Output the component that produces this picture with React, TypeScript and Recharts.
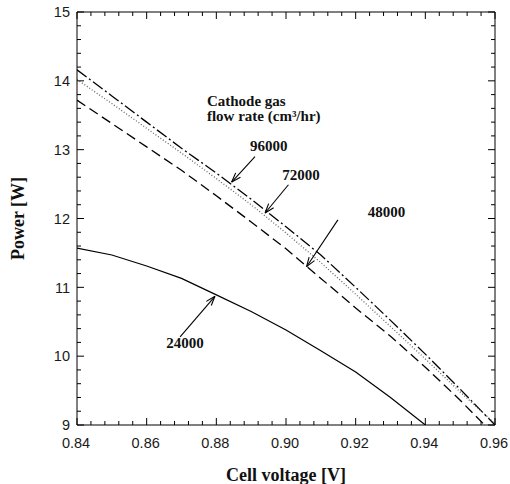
import React from 'react';
import { LineChart, Line, XAxis, YAxis, ReferenceLine, ReferenceDot } from 'recharts';

// cell voltage [V] for the three upper curves
const voltage = [0.84, 0.85, 0.86, 0.87, 0.88, 0.89, 0.9, 0.91, 0.92, 0.93, 0.94, 0.95, 0.96];
const voltage48000 = [0.84, 0.85, 0.86, 0.87, 0.88, 0.89, 0.9, 0.91, 0.92, 0.93, 0.94, 0.95, 0.957];
const voltage24000 = [0.84, 0.85, 0.86, 0.87, 0.88, 0.89, 0.9, 0.91, 0.92, 0.93, 0.94];

// power [W] for each cathode gas flow rate (cm3/hr)
const power96000 = [14.16, 13.78, 13.4, 13.02, 12.66, 12.28, 11.88, 11.47, 11.0, 10.52, 10.03, 9.52, 9.0];
const power72000 = [14.02, 13.67, 13.31, 12.95, 12.58, 12.2, 11.79, 11.36, 10.9, 10.43, 9.96, 9.48, 9.02];
const power48000 = [13.72, 13.38, 13.04, 12.7, 12.33, 11.95, 11.56, 11.13, 10.7, 10.29, 9.84, 9.36, 9.0];
const power24000 = [11.57, 11.47, 11.31, 11.13, 10.89, 10.65, 10.38, 10.08, 9.77, 9.4, 9.0];

const xTickLabels = [0.84, 0.86, 0.88, 0.9, 0.92, 0.94, 0.96];
const yTickLabels = [9, 10, 11, 12, 13, 14, 15];

// annotation text anchors and arrows, in data units
const flowLabels = [
  { name: '96000', v: 0.8897, p: 12.98, from: { x: 0.8911, y: 12.9 }, to: { x: 0.8844, y: 12.53 } },
  { name: '72000', v: 0.8989, p: 12.56, from: { x: 0.9007, y: 12.49 }, to: { x: 0.894, y: 12.08 } },
  { name: '48000', v: 0.9235, p: 12.02, from: { x: 0.9149, y: 11.98 }, to: { x: 0.9059, y: 11.3 } },
  { name: '24000', v: 0.8656, p: 10.12, from: { x: 0.8696, y: 10.28 }, to: { x: 0.8796, y: 10.87 } },
];
const titlePos = { v: 0.8773, p: 13.634 };

const toPoints = (xs: number[], ys: number[]) => xs.map((v, i) => ({ v, p: ys[i] }));

const xTicks = Array.from({ length: 31 }, (_, i) => +(0.84 + i * 0.004).toFixed(3));
const yTicks = Array.from({ length: 31 }, (_, i) => +(9 + i * 0.2).toFixed(1));

const isMajorX = (v: number) => xTickLabels.some((t) => Math.abs(t - v) < 1e-6);
const isMajorY = (v: number) => yTickLabels.some((t) => Math.abs(t - v) < 1e-6);

const serif = '"Liberation Serif", "Times New Roman", serif';
const sans = '"Liberation Sans", Arial, sans-serif';

const BottomTick = ({ x, y, payload }: any) => {
  const major = isMajorX(payload.value);
  return (
    <g>
      <line x1={x} y1={y} x2={x} y2={y - (major ? 7 : 4)} stroke="#000" />
      {major && (
        <text x={x - 1} y={y + 23} textAnchor="middle" fontFamily={sans} fontSize={14.5} fill="#1a1a1a">
          {payload.value.toFixed(2)}
        </text>
      )}
    </g>
  );
};

const TopTick = ({ x, y, payload }: any) => {
  const major = isMajorX(payload.value);
  return <line x1={x} y1={y} x2={x} y2={y + (major ? 7 : 4)} stroke="#000" />;
};

const LeftTick = ({ x, y, payload }: any) => {
  const major = isMajorY(payload.value);
  return (
    <g>
      <line x1={x} y1={y} x2={x + (major ? 7 : 4)} y2={y} stroke="#000" />
      {major && (
        <text x={x - 7} y={y} dy="0.36em" textAnchor="end" fontFamily={sans} fontSize={14.5} fill="#1a1a1a">
          {payload.value}
        </text>
      )}
    </g>
  );
};

const RightTick = ({ x, y, payload }: any) => {
  const major = isMajorY(payload.value);
  return <line x1={x} y1={y} x2={x - (major ? 7 : 4)} y2={y} stroke="#000" />;
};

const Arrow = ({ x1, y1, x2, y2 }: any) => {
  const ang = Math.atan2(y2 - y1, x2 - x1);
  const len = 10;
  const spread = 0.33;
  const a = ang + Math.PI - spread;
  const b = ang + Math.PI + spread;
  return (
    <g stroke="#000" strokeWidth={1.1} fill="none">
      <line x1={x1} y1={y1} x2={x2} y2={y2} />
      <line x1={x2} y1={y2} x2={x2 + len * Math.cos(a)} y2={y2 + len * Math.sin(a)} />
      <line x1={x2} y1={y2} x2={x2 + len * Math.cos(b)} y2={y2 + len * Math.sin(b)} />
    </g>
  );
};

const textStyle = { fontFamily: serif, fontWeight: 'bold' as const, fontSize: 15, fill: '#111' };

export default function App() {
  return (
    <div style={{ position: 'absolute', left: 0, top: 0, background: '#fff' }}>
      <LineChart width={510} height={484} margin={{ top: 10, right: 13, bottom: 0, left: 0 }}>
        <XAxis
          dataKey="v"
          type="number"
          domain={[0.84, 0.96]}
          ticks={xTicks}
          interval={0}
          tick={<BottomTick />}
          tickLine={false}
          tickSize={0}
          tickMargin={0}
          height={59}
          axisLine={{ stroke: '#000' }}
          allowDataOverflow
          label={{
            content: (p: any) => (
              <text
                x={p.viewBox.x + p.viewBox.width / 2}
                y={p.viewBox.y + 56}
                textAnchor="middle"
                fontFamily={serif}
                fontWeight="bold"
                fontSize={18}
                fill="#111"
              >
                Cell voltage [V]
              </text>
            ),
          }}
        />
        <XAxis
          xAxisId="top"
          orientation="top"
          dataKey="v"
          type="number"
          domain={[0.84, 0.96]}
          ticks={xTicks}
          interval={0}
          tick={<TopTick />}
          tickLine={false}
          tickSize={0}
          tickMargin={0}
          height={2}
          axisLine={{ stroke: '#000' }}
          allowDataOverflow
        />
        <YAxis
          type="number"
          domain={[9, 15]}
          ticks={yTicks}
          interval={0}
          tick={<LeftTick />}
          tickLine={false}
          tickSize={0}
          tickMargin={0}
          width={77}
          axisLine={{ stroke: '#000' }}
          allowDataOverflow
          label={{
            content: (p: any) => (
              <text
                transform={`translate(${p.viewBox.x + 18}, ${p.viewBox.y + p.viewBox.height / 2}) rotate(-90)`}
                textAnchor="middle"
                dy="0.35em"
                fontFamily={serif}
                fontWeight="bold"
                fontSize={18}
                fill="#111"
              >
                Power [W]
              </text>
            ),
          }}
        />
        <YAxis
          yAxisId="right"
          orientation="right"
          type="number"
          domain={[9, 15]}
          ticks={yTicks}
          interval={0}
          tick={<RightTick />}
          tickLine={false}
          tickSize={0}
          tickMargin={0}
          width={2}
          axisLine={{ stroke: '#000' }}
          allowDataOverflow
        />

        <Line
          data={toPoints(voltage, power96000)}
          dataKey="p"
          stroke="#000"
          strokeWidth={1.3}
          strokeDasharray="12 3 2 3"
          dot={false}
          isAnimationActive={false}
        />
        <Line
          data={toPoints(voltage, power72000)}
          dataKey="p"
          stroke="#666"
          strokeWidth={1.3}
          strokeDasharray="1 2"
          dot={false}
          isAnimationActive={false}
        />
        <Line
          data={toPoints(voltage48000, power48000)}
          dataKey="p"
          stroke="#000"
          strokeWidth={1.3}
          strokeDasharray="10 5"
          dot={false}
          isAnimationActive={false}
        />
        <Line
          data={toPoints(voltage24000, power24000)}
          dataKey="p"
          stroke="#000"
          strokeWidth={1.2}
          dot={false}
          isAnimationActive={false}
        />

        <ReferenceDot
          x={titlePos.v}
          y={titlePos.p}
          r={0}
          ifOverflow="visible"
          shape={(s: any) => (
            <text x={s.cx} y={s.cy} {...textStyle}>
              <tspan x={s.cx}>Cathode gas</tspan>
              <tspan x={s.cx} dy={15}>flow rate (cm³/hr)</tspan>
            </text>
          )}
        />
        {flowLabels.map((f) => (
          <ReferenceLine key={`arrow-${f.name}`} segment={[f.from, f.to]} ifOverflow="visible" shape={<Arrow />} />
        ))}
        {flowLabels.map((f) => (
          <ReferenceDot
            key={`label-${f.name}`}
            x={f.v}
            y={f.p}
            r={0}
            ifOverflow="visible"
            shape={(s: any) => (
              <text x={s.cx} y={s.cy} {...textStyle}>
                {f.name}
              </text>
            )}
          />
        ))}
      </LineChart>
    </div>
  );
}
